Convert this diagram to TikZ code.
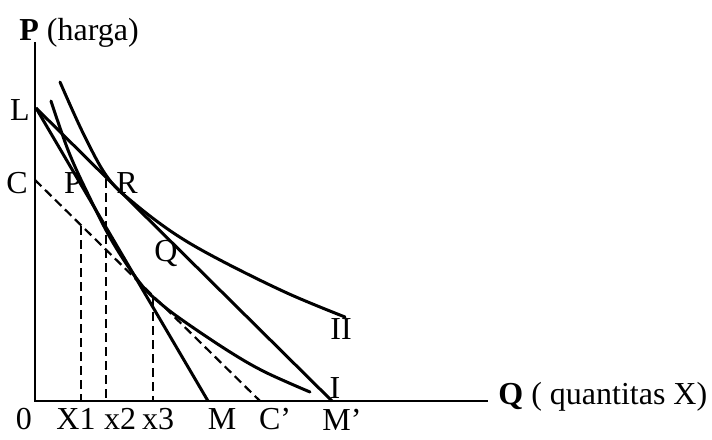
\documentclass[tikz,border=0pt]{standalone}
\usepackage{fontspec}
\setmainfont{Liberation Serif}

\begin{document}
\begin{tikzpicture}[
    x=0.5pt, y=-0.5pt,
    every node/.style={font=\fontsize{16}{19}\selectfont, inner sep=0pt},
    axis/.style={line width=1.3pt},
    budget/.style={line width=1.5pt},
    icurve/.style={line width=1.5pt, line join=round, line cap=round},
    guide/.style={line width=1.1pt, dash pattern=on 4.5pt off 2.5pt},
    ticklabel/.style={anchor=base},
]
\useasboundingbox (0,0) rectangle (712,439);

% --- Axes ---
\coordinate (O)    at (35,401);   % origin
\coordinate (Ptop) at (35,42);    % top of price axis
\coordinate (Qend) at (488,401);  % end of quantity axis
\draw[axis] (Ptop) -- (O) -- (Qend);

\node[anchor=base west] (Plab) at (19,40) {\textbf{P} (harga)};
\node[anchor=base west] (Qlab) at (498,404) {\textbf{Q} ( quantitas X)};

% --- Budget lines ---
\coordinate (L)  at (36,108);
\coordinate (C)  at (35,180);
\coordinate (M)  at (208,401);
\coordinate (Cp) at (260,401);
\coordinate (Mp) at (332,401);

\draw[budget] (L) -- (M);
\draw[budget] (L) -- (Mp);
\draw[guide]  (C) -- (Cp);

% --- Indifference curves ---
\draw[icurve] plot[smooth, tension=0.6] coordinates
    {(51,101) (68,150) (86,190) (112,241) (140,283) (160,303)
     (185,322) (230,352) (265,372) (310,392)};
\draw[icurve] plot[smooth, tension=0.6] coordinates
    {(60,82) (84,135) (108,178) (135,204) (175,234) (220,260)
     (287,293) (345,317)};

% --- Dashed drop lines to the quantity axis ---
\coordinate (X1top) at (81,226);
\coordinate (X2top) at (106,179);
\coordinate (X3top) at (153,298);
\coordinate (X1) at (81,401);
\coordinate (X2) at (106,401);
\coordinate (X3) at (153,401);
\draw[guide] (X1top) -- (X1);
\draw[guide] (X2top) -- (X2);
\draw[guide] (X3top) -- (X3);

% --- Point and curve labels ---
\node (Llab)  at (20,110) {L};
\node (Clab)  at (17,183) {C};
\node (Pp)    at (73,183) {P};
\node (Rp)    at (127,183) {R};
\node (Qp)    at (166,253) {Q};
\node (IIlab) at (341,329) {II};
\node (Ilab)  at (335,388) {I};

% --- Quantity axis labels ---
\node[ticklabel] (zero) at (24,429)  {0};
\node[ticklabel] (x1l)  at (76,429)  {X1};
\node[ticklabel] (x2l)  at (120,429) {x2};
\node[ticklabel] (x3l)  at (158,429) {x3};
\node[ticklabel] (Ml)   at (222,429) {M};
\node[ticklabel] (Cpl)  at (275,429) {C'};
\node[ticklabel] (Mpl)  at (342,430) {M'};
\end{tikzpicture}
\end{document}
